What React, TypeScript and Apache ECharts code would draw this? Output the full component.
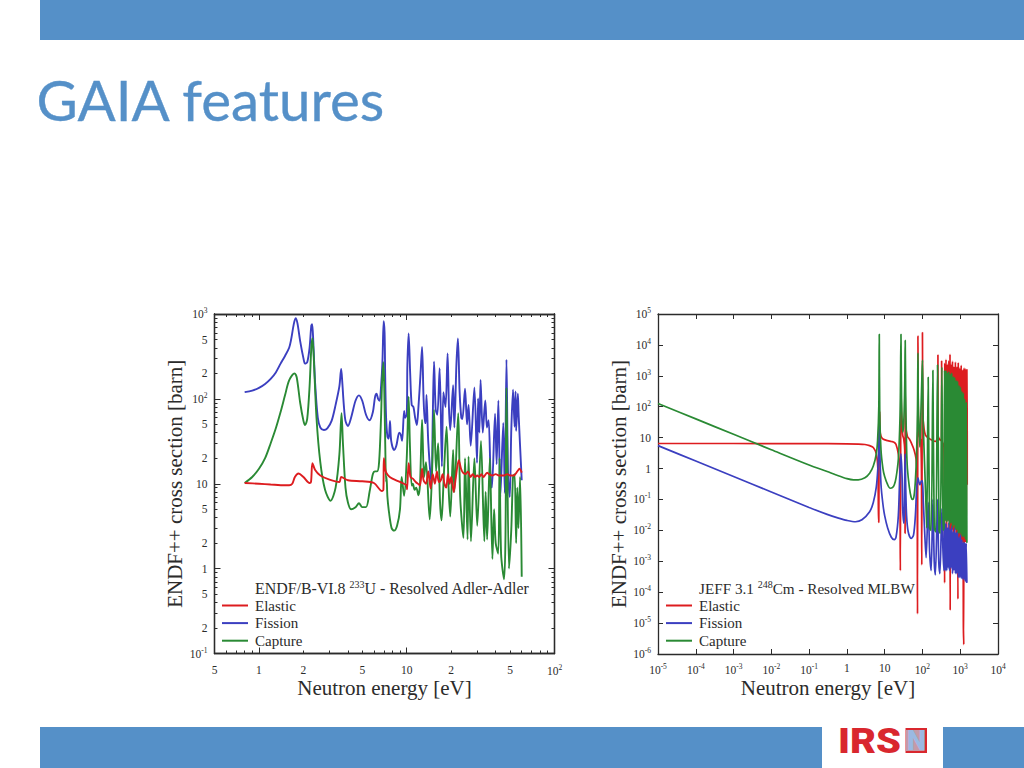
import React, { useEffect, useRef } from "react";
import * as echarts from "echarts";

const titleText = "GAIA features";
const seriesNames = ["Elastic", "Fission", "Capture"];
const xName = "Neutron energy [eV]";
const yName = "ENDF++ cross section [barn]";

// U-233 chart
const uXMajor = [1, 10, 100];
const uXMinor = [0.5, 0.6, 0.7, 0.8, 0.9, 2, 3, 4, 5, 6, 7, 8, 9, 20, 30, 40, 50, 60, 70, 80, 90];
const uXLabels = [0.5, 1, 2, 5, 10, 20, 50, 100];
const uYMajor = [0.1, 1, 10, 100, 1000];
const uYMinor = [0.2, 0.3, 0.4, 0.5, 0.6, 0.7, 0.8, 0.9, 2, 3, 4, 5, 6, 7, 8, 9, 20, 30, 40, 50, 60, 70, 80, 90, 200, 300, 400, 500, 600, 700, 800, 900];
const uYLabels = [0.1, 0.2, 0.5, 1, 2, 5, 10, 20, 50, 100, 200, 500, 1000];

const uElastic = [[0.8, 10.2], [1, 10], [1.2, 9.8], [1.5, 9.6], [1.6, 9.6], [1.68, 10], [1.75, 12], [1.85, 13.2], [2, 12], [2.2, 10.2], [2.25, 10.5], [2.3, 17.5], [2.4, 14.5], [2.6, 12.5], [3, 11.2], [3.5, 10.5], [3.6, 12], [4, 11], [5, 10.7], [6, 10.2], [6.8, 8.2], [6.95, 8.5], [7, 20], [7.2, 14], [7.5, 12.5], [8, 11.5], [9, 10.5], [10, 9.5], [10.05, 8.6], [10.3, 17.5], [10.6, 12], [11, 11.5], [11.5, 10.5], [12.1, 9.8], [12.3, 9.5], [12.7, 15], [13, 11], [13.5, 10], [14, 14], [14.5, 8.8], [15, 13], [15.5, 10], [16, 14], [16.5, 10.5], [17, 11], [17.5, 13], [18, 10], [18.5, 9], [19, 13], [19.5, 10], [20, 12], [20.8, 8], [21.5, 12], [22.5, 19], [23.3, 15], [24, 13.5], [25, 13], [26, 14], [27, 12], [28, 13], [29, 12], [30, 12.5], [31, 12], [32, 13], [33, 12], [35, 13.5], [36, 13], [38, 12.5], [40, 13], [42, 12.5], [45, 12.5], [48, 13], [50, 12.5], [53, 12.5], [56, 14], [58, 15], [60, 13.5]];
const uFission = [[0.8, 120], [0.9, 125], [1, 135], [1.1, 150], [1.2, 172], [1.3, 205], [1.4, 260], [1.5, 320], [1.6, 400], [1.65, 500], [1.72, 760], [1.77, 890], [1.82, 780], [1.9, 480], [2, 300], [2.05, 260], [2.12, 270], [2.2, 400], [2.26, 730], [2.29, 760], [2.33, 480], [2.4, 150], [2.5, 60], [2.6, 46], [2.75, 43], [2.9, 45], [3.1, 55], [3.3, 85], [3.5, 140], [3.6, 225], [3.66, 160], [3.75, 85], [3.85, 55], [4, 48], [4.2, 60], [4.5, 95], [4.75, 110], [5, 95], [5.3, 65], [5.6, 56], [5.9, 70], [6.1, 105], [6.25, 115], [6.4, 100], [6.55, 95], [6.7, 140], [6.85, 280], [6.98, 820], [7.08, 600], [7.15, 180], [7.25, 60], [7.4, 36], [7.55, 34], [7.7, 55], [7.85, 32], [8.2, 25], [8.5, 28], [8.9, 40], [9.1, 38], [9.3, 32], [9.6, 72], [9.75, 60], [10, 66], [10.1, 250], [10.3, 590], [10.55, 200], [10.8, 85], [11.1, 80], [11.4, 60], [11.7, 49], [12, 80], [12.4, 200], [12.7, 410], [13, 100], [13.3, 52], [13.45, 52], [13.6, 111], [14, 30], [14.7, 10], [15, 60], [15.3, 275], [15.7, 75], [16.1, 65], [16.7, 230], [17.3, 16], [17.7, 120], [18.3, 80], [18.9, 343], [19.3, 80], [19.7, 43], [20.6, 145], [21, 46], [21.7, 262], [22.2, 516], [22.8, 120], [23.4, 60], [23.8, 58], [24.8, 132], [25.6, 50], [26.2, 85], [27.1, 28], [28.7, 136], [29.9, 17.6], [30.4, 101], [31, 40], [31.6, 167], [32.7, 40], [34, 96], [34.9, 46], [35.8, 56], [37, 11.3], [37.7, 9], [39.6, 67], [40.6, 17], [41.7, 96], [43, 7], [45, 52], [46.1, 7.8], [47.3, 290], [48.5, 12.5], [49.8, 7], [51, 43], [52.4, 128], [53.7, 47], [54.5, 122], [55, 42], [56.5, 115], [57.2, 64], [60, 11]];
const uCapture = [[0.8, 10.2], [0.9, 12], [1, 15], [1.1, 20], [1.2, 30], [1.3, 45], [1.4, 70], [1.5, 110], [1.6, 165], [1.74, 200], [1.8, 180], [1.9, 90], [2, 55], [2.05, 49], [2.12, 58], [2.2, 140], [2.26, 400], [2.3, 520], [2.34, 350], [2.45, 60], [2.6, 18], [2.8, 8.5], [3.05, 6.3], [3.3, 9], [3.5, 22], [3.62, 68], [3.7, 30], [3.85, 9], [4, 6], [4.2, 5], [4.5, 5.3], [4.75, 5.9], [5, 5.3], [5.3, 5.3], [5.6, 8], [5.9, 13], [6.1, 14], [6.3, 14], [6.5, 18], [6.7, 60], [6.8, 150], [6.95, 270], [7.05, 120], [7.15, 30], [7.25, 10.5], [7.3, 12], [7.4, 7], [7.6, 4.5], [7.9, 3], [8.2, 2.8], [8.6, 3.2], [9, 5], [9.24, 12], [9.6, 7.2], [10, 20], [10.3, 106], [10.5, 30], [10.8, 9.5], [11, 10], [11.3, 8.5], [11.6, 9], [12, 7.3], [12.3, 10], [12.7, 57], [13.1, 12], [13.5, 18], [14.3, 3.8], [14.8, 12], [15.3, 74], [15.8, 14], [16.3, 30], [16.8, 6], [17.2, 3.7], [17.8, 12], [18.6, 47], [19.2, 9], [19.7, 4.1], [20.6, 25], [21, 8], [22.3, 68], [23, 7], [24.2, 2.3], [24.8, 20], [25.8, 2.2], [26.2, 21], [27.2, 2.1], [28.7, 20], [30, 3.2], [31.8, 32], [33.5, 2.1], [34.2, 8], [35, 2.2], [36.5, 20], [38, 1.3], [39, 5], [40, 2], [41.6, 1.5], [42.5, 20], [43.5, 1.5], [45.6, 0.75], [46.6, 2.5], [47.3, 135], [49.2, 1], [51, 2.9], [52.4, 12], [53.7, 13], [55, 2], [56, 9], [57, 3], [58.5, 12], [60, 0.8]];

// Cm-248 chart
const cmXMajor = [1e-5, 1e-4, 1e-3, 1e-2, 1e-1, 1, 10, 100, 1000, 10000];
const cmYMajor = [1e-6, 1e-5, 1e-4, 1e-3, 1e-2, 1e-1, 1, 10, 100, 1000, 10000, 100000];

const cmElastic = [[1e-5, 6.45], [1e-3, 6.45], [0.1, 6.4], [1, 6.3], [2, 6.2], [3, 6], [4, 5.5], [5, 4.8], [6, 3], [6.6, 1], [6.9, 0.018], [7, 0.02], [7.2, 50], [7.4, 70], [7.5, 18], [8, 11], [9, 9], [12, 8], [15, 7.5], [18, 7], [20, 6], [23, 3], [25, 1], [26, 0.0005], [27, 400], [28, 60], [30, 12], [32, 9], [34, 4], [34.7, 0.008], [35, 200], [36, 25], [40, 11], [45, 9], [50, 7], [60, 4], [68, 2], [72, 0.5], [74, 2e-5], [76, 20000], [78, 50], [84, 11], [90, 8], [94, 1], [96, 0.00076], [100, 25000], [103, 50], [110, 20], [120, 12], [140, 10], [170, 8.5], [220, 7.5], [255, 12], [257, 4700], [260, 12], [280, 9], [320, 8], [322, 3000], [325, 8], [340, 7], [370, 5]];
const cmElasticDense = [[386, 0.0002], [390, 2600], [402, 0.02], [420, 3400], [440, 0.01], [458, 2400], [480, 0.02], [500, 3100], [523, 0.01], [537, 5000], [543, 2.6e-5], [572, 2400], [597, 0.01], [625, 3000], [652, 0.008], [682, 2000], [712, 0.01], [745, 2800], [778, 0.005], [812, 1900], [850, 0.006], [870, 6e-5], [888, 2700], [928, 0.004], [970, 1800], [1012, 0.005], [1060, 2200], [1105, 0.004], [1155, 1500], [1210, 1.1e-5], [1240, 2e-6], [1262, 1800], [1320, 0.004], [1380, 1700], [1440, 0.004], [1500, 1600], [1530, 12], [1530, 0.3]];
const cmFission = [[1e-5, 5.5], [1e-4, 1.75], [1e-3, 0.55], [1e-2, 0.175], [0.1, 0.055], [0.3, 0.033], [0.6, 0.025], [1, 0.021], [1.7, 0.019], [2.5, 0.022], [4, 0.04], [5, 0.08], [6, 0.25], [6.6, 1], [7, 5], [7.2, 25], [7.4, 5], [8, 0.3], [9, 0.07], [10, 0.03], [12, 0.012], [15, 0.006], [18, 0.005], [20, 0.006], [23, 0.03], [25, 0.5], [27, 3], [29, 0.5], [30, 0.05], [32, 0.017], [33, 0.03], [34, 0.5], [35, 3], [36, 0.3], [38, 0.03], [42, 0.009], [50, 0.0055], [58, 0.007], [65, 0.03], [70, 0.2], [76, 0.5], [85, 0.3], [95, 0.4], [100, 0.4], [105, 0.1], [115, 0.008], [125, 0.0013], [142, 0.08], [155, 0.002], [170, 0.0005], [189, 0.1], [205, 0.001], [220, 0.00036], [251, 0.1], [270, 0.001], [290, 0.0004], [327, 0.05], [350, 0.002], [372, 0.0005]];
const cmFissionDense = [[385, 0.019], [402, 0.0005], [420, 0.017], [440, 0.0005], [458, 0.012], [480, 0.0006], [500, 0.018], [523, 0.0005], [545, 0.011], [572, 0.0006], [597, 0.014], [625, 0.0004], [652, 0.009], [682, 0.0005], [712, 0.012], [745, 0.0004], [778, 0.0085], [812, 0.0004], [850, 0.009], [888, 0.0003], [928, 0.006], [970, 0.0003], [1012, 0.007], [1060, 0.00028], [1105, 0.005], [1155, 0.00027], [1210, 0.0042], [1262, 0.00025], [1320, 0.004], [1380, 0.00022], [1440, 0.0038], [1500, 0.0002]];
const cmCapture = [[1e-5, 128], [1e-4, 40.5], [1e-3, 12.8], [1e-2, 4.05], [0.1, 1.3], [0.3, 0.8], [0.5, 0.63], [1, 0.47], [1.5, 0.43], [2, 0.43], [3, 0.5], [4, 0.7], [5, 1.2], [6, 3], [6.5, 8], [7, 100], [7.2, 22000], [7.4, 80], [8, 4], [9, 1], [10, 0.55], [12, 0.3], [14, 0.23], [16, 0.24], [18, 0.3], [20, 0.5], [23, 2], [25, 20], [26, 200], [27, 22000], [28, 200], [30, 15], [32, 30], [34, 500], [35, 14000], [36, 300], [38, 5], [40, 1], [45, 0.25], [50, 0.12], [55, 0.1], [60, 0.13], [65, 0.4], [70, 3], [74, 80], [76, 5400], [78, 100], [85, 5], [90, 40], [97, 1000], [100, 3200], [105, 30], [115, 1], [125, 0.05], [130, 0.012], [142, 900], [155, 0.012], [170, 0.01], [189, 1500], [205, 0.012], [225, 0.009], [251, 2250], [275, 0.01], [295, 0.008], [327, 1900], [350, 0.01], [372, 0.012]];
const cmCaptureDense = [[385, 1500], [402, 0.02], [420, 1500], [440, 0.018], [458, 1300], [480, 0.02], [500, 1400], [523, 0.015], [545, 1150], [572, 0.017], [597, 1250], [625, 0.012], [652, 950], [682, 0.014], [712, 900], [745, 0.011], [778, 720], [812, 0.01], [850, 680], [888, 0.008], [928, 500], [970, 0.008], [1012, 440], [1060, 0.007], [1105, 320], [1155, 0.006], [1210, 280], [1262, 0.006], [1320, 180], [1380, 0.005], [1440, 135], [1500, 0.004]];

const RED = "#dd1c1f";
const BLUE = "#3b3fc0";
const GREEN = "#2a8a34";
const BAR = "#5590c8";
const INK = "#2b2b2b";
const SERIF = "'Liberation Serif', serif";

function fmtValue(v: number): string {
  const e = Math.log10(v);
  const r = Math.round(e);
  if (Math.abs(e - r) > 1e-6) return `{b|${Math.round(v / Math.pow(10, Math.floor(e + 1e-9)))}}`;
  if (r === 0) return "{b|1}";
  if (r === 1) return "{b|10}";
  return `{b|10}{s|${r}}`;
}

function labelStyle(margin: number) {
  return {
    show: true,
    formatter: fmtValue,
    margin,
    rich: {
      b: { fontFamily: SERIF, fontSize: 11.5, color: INK },
      s: { fontFamily: SERIF, fontSize: 7.5, color: INK, padding: [0, 0, 7, 0] },
    },
  };
}

function axis(kind: "x" | "y", grid: number, range: number[], pos: string, ticks: number[], len: number, labels?: number[], margin = 7) {
  const a: any = {
    type: "log",
    logBase: 10,
    gridIndex: grid,
    position: pos,
    min: range[0],
    max: range[1],
    axisLine: { show: true, onZero: false, lineStyle: { color: INK, width: 1.3 } },
    axisTick: { show: true, inside: true, length: len, customValues: ticks, lineStyle: { color: INK, width: 1 } },
    axisLabel: labels ? { ...labelStyle(margin), customValues: labels } : { show: false },
    splitLine: { show: false },
    minorTick: { show: false },
    axisPointer: { show: false },
    silent: true,
  };
  if (labels) {
    a.name = kind === "x" ? xName : yName;
    a.nameLocation = "middle";
    a.nameGap = kind === "x" ? 23 : 28;
    a.nameTextStyle = { fontFamily: SERIF, fontSize: 21, color: INK };
  }
  return a;
}

function line(name: string, data: number[][], color: string, idx: number[], width: number) {
  return {
    type: "line",
    name,
    data,
    xAxisIndex: idx[0],
    yAxisIndex: idx[1],
    showSymbol: false,
    symbol: "none",
    silent: true,
    animation: false,
    smooth: 0.3,
    lineStyle: { color, width },
    itemStyle: { color },
    emphasis: { disabled: true },
  };
}

function legend(left: number) {
  return {
    left,
    top: 598,
    orient: "vertical",
    padding: 0,
    itemWidth: 26,
    itemHeight: 2,
    itemGap: 2.6,
    icon: "rect",
    selectedMode: false,
    data: seriesNames,
    textStyle: { fontFamily: SERIF, fontSize: 15, color: INK, padding: [0, 0, 0, 2], lineHeight: 12, height: 12 },
  };
}

function subtitle(x: number, size: number, before: string, sup: string, after: string) {
  return {
    type: "text",
    x,
    y: 588,
    style: {
      text: `{t|${before} }{s|${sup}}{t|${after}}`,
      verticalAlign: "middle",
      rich: {
        t: { fontFamily: SERIF, fontSize: size, fill: INK, color: INK },
        s: { fontFamily: SERIF, fontSize: 10, fill: INK, color: INK, padding: [0, 0, 7, 0] },
      },
    },
  };
}

export default function App() {
  const ref = useRef<HTMLDivElement>(null);
  useEffect(() => {
    const chart = echarts.init(ref.current!, undefined, { renderer: "svg" });
    const uxr = [0.5, 100];
    const uyr = [0.1, 1000];
    const cxr = [1e-5, 1e4];
    const cyr = [1e-6, 1e5];
    chart.setOption({
      animation: false,
      backgroundColor: "#ffffff",
      grid: [
        { left: 214.5, top: 314, width: 340, height: 339.5 },
        { left: 658, top: 314, width: 340, height: 340 },
      ],
      xAxis: [
        axis("x", 0, uxr, "bottom", uXMajor, 6, uXLabels, 10),
        axis("x", 0, uxr, "bottom", uXMinor, 3),
        axis("x", 0, uxr, "top", uXMajor, 6),
        axis("x", 0, uxr, "top", uXMinor, 3),
        axis("x", 1, cxr, "bottom", cmXMajor, 5, cmXMajor, 8),
        axis("x", 1, cxr, "top", cmXMajor, 5),
      ],
      yAxis: [
        axis("y", 0, uyr, "left", uYMajor, 6, uYLabels),
        axis("y", 0, uyr, "left", uYMinor, 3),
        axis("y", 0, uyr, "right", uYMajor, 6),
        axis("y", 0, uyr, "right", uYMinor, 3),
        axis("y", 1, cyr, "left", cmYMajor, 5, cmYMajor),
        axis("y", 1, cyr, "right", cmYMajor, 5),
      ],
      legend: [legend(222), legend(666)],
      series: [
        line("Fission", uFission, BLUE, [0, 0], 1.9),
        line("Capture", uCapture, GREEN, [0, 0], 1.9),
        line("Elastic", uElastic, RED, [0, 0], 1.9),
        line("Elastic", [...cmElastic, ...cmElasticDense], RED, [4, 4], 1.7),
        line("Fission", [...cmFission, ...cmFissionDense], BLUE, [4, 4], 1.7),
        line("Capture", [...cmCapture, ...cmCaptureDense], GREEN, [4, 4], 1.7),
      ],
      graphic: [
        { type: "rect", shape: { x: 40, y: 0, width: 984, height: 40 }, style: { fill: BAR } },
        { type: "rect", shape: { x: 40, y: 727, width: 782, height: 41 }, style: { fill: BAR } },
        { type: "rect", shape: { x: 943, y: 727, width: 81, height: 41 }, style: { fill: BAR } },
        {
          type: "text",
          x: 36.5,
          y: 99,
          style: { text: titleText, fontFamily: "'Lato', sans-serif", fontSize: 56.5, fill: BAR, stroke: BAR, lineWidth: 0.35, verticalAlign: "middle" },
        },
        { type: "text", x: 838, y: 741, scaleX: 1.14, style: { text: "IRS", fontFamily: "'Roboto', sans-serif", fontWeight: 900, fontSize: 35, fill: "#d9272e", verticalAlign: "middle" } },
        { type: "rect", shape: { x: 905.5, y: 728, width: 21.5, height: 25 }, style: { fill: "#d9272e" } },
        { type: "rect", shape: { x: 906, y: 730, width: 18.5, height: 21 }, style: { fill: "#c49aa8" } },
        { type: "text", x: 907, y: 741, style: { text: "N", fontFamily: "'Roboto', sans-serif", fontWeight: 900, fontSize: 27, fill: "#9bb9e2", verticalAlign: "middle" } },
        subtitle(255, 15.9, "ENDF/B-VI.8", "233", "U - Resolved Adler-Adler"),
        subtitle(699, 15.2, "JEFF 3.1", "248", "Cm - Resolved MLBW"),
      ],
    });
    return () => chart.dispose();
  }, []);
  return <div ref={ref} style={{ position: "absolute", left: 0, top: 0, width: 1024, height: 768 }} />;
}
